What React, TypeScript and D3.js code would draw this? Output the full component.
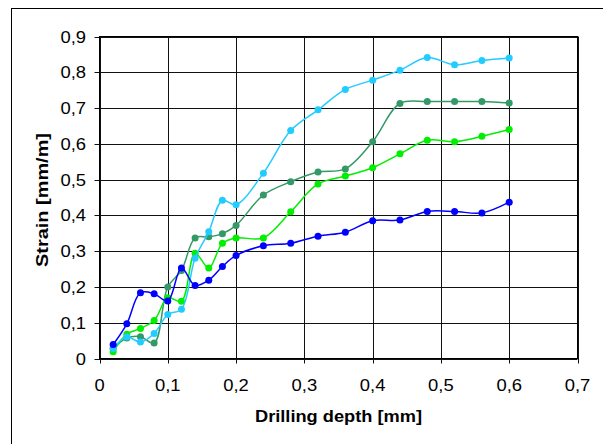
import React from "react";
import * as d3 from "d3";

const depths = [0.02, 0.04, 0.06, 0.08, 0.1, 0.12, 0.14, 0.16, 0.18, 0.2, 0.24, 0.28, 0.32, 0.36, 0.4, 0.44, 0.48, 0.52, 0.56, 0.6];
const blueSeries = [0.039, 0.097, 0.184, 0.181, 0.161, 0.253, 0.204, 0.219, 0.257, 0.288, 0.315, 0.322, 0.342, 0.353, 0.385, 0.387, 0.411, 0.411, 0.407, 0.437];
const greenSeries = [0.019, 0.068, 0.084, 0.106, 0.17, 0.16, 0.294, 0.253, 0.322, 0.337, 0.337, 0.41, 0.488, 0.51, 0.533, 0.572, 0.61, 0.606, 0.621, 0.64];
const tealSeries = [0.028, 0.057, 0.061, 0.043, 0.2, 0.246, 0.337, 0.34, 0.349, 0.372, 0.457, 0.494, 0.521, 0.53, 0.606, 0.713, 0.718, 0.718, 0.718, 0.714];
const cyanSeries = [0.028, 0.06, 0.046, 0.07, 0.123, 0.138, 0.28, 0.354, 0.442, 0.43, 0.518, 0.637, 0.695, 0.752, 0.778, 0.806, 0.841, 0.821, 0.833, 0.84];
const xTicks = [0, 0.1, 0.2, 0.3, 0.4, 0.5, 0.6, 0.7];
const yTicks = [0, 0.1, 0.2, 0.3, 0.4, 0.5, 0.6, 0.7, 0.8, 0.9];
const seriesList = [
  { values: tealSeries, color: "#339966" },
  { values: greenSeries, color: "#00EE00" },
  { values: cyanSeries, color: "#22CCFF" },
  { values: blueSeries, color: "#0000FF" },
];

const fmt = (v: number) => (v === 0 ? "0" : d3.format(".1f")(v).replace(".", ","));

export default function App() {
  const W = 603, H = 444;
  const left = 99.5, right = 577.5, top = 36.5, bottom = 358.5;
  const x = d3.scaleLinear().domain([0, 0.7]).range([left, right]);
  const y = d3.scaleLinear().domain([0, 0.9]).range([bottom, top]);
  const font = "'Liberation Sans', Arial, sans-serif";
  const labelLen = (s: string) => (s.length === 1 ? 10.2 : 25.6);
  return (
    <svg width={W} height={H} style={{ position: "absolute", left: 0, top: 0 }}>
      <rect x={0} y={0} width={W} height={H} fill="#fff" />
      <rect x={11.5} y={8.5} width={W} height={H} fill="none" stroke="#000" strokeWidth={1} />
      {yTicks.map((t) => (
        <g key={"y" + t}>
          <line x1={left - 5} x2={right} y1={Math.round(y(t)) + 0.5} y2={Math.round(y(t)) + 0.5} stroke="#111" strokeWidth={1} />
          <text x={86} y={y(t) + 6} textAnchor="end" fontFamily={font} fontSize={16} fill="#000"
            textLength={labelLen(fmt(t))} lengthAdjust="spacingAndGlyphs">
            {fmt(t)}
          </text>
        </g>
      ))}
      {xTicks.map((t) => (
        <g key={"x" + t}>
          <line x1={Math.round(x(t)) + 0.5} x2={Math.round(x(t)) + 0.5} y1={top} y2={bottom + 5} stroke="#111" strokeWidth={1} />
          <text x={x(t)} y={391} textAnchor="middle" fontFamily={font} fontSize={16} fill="#000"
            textLength={labelLen(fmt(t))} lengthAdjust="spacingAndGlyphs">
            {fmt(t)}
          </text>
        </g>
      ))}
      <rect x={left} y={top} width={right - left} height={bottom - top} fill="none" stroke="#000" strokeWidth={1} />
      {seriesList.map((s, i) => {
        const pts: [number, number][] = depths.map((d, j) => [x(d), y(s.values[j])]);
        const path = d3.line().curve(d3.curveCatmullRom.alpha(0.5))(pts) || "";
        return (
          <g key={i}>
            <path d={path} fill="none" stroke={s.color} strokeWidth={1.5} />
            {pts.map((p, j) => (
              <circle key={j} cx={p[0]} cy={p[1]} r={3.5} fill={s.color} />
            ))}
          </g>
        );
      })}
      <text x={338.5} y={422} textAnchor="middle" fontFamily={font} fontSize={16} fontWeight="bold" fill="#000"
        textLength={167} lengthAdjust="spacingAndGlyphs">
        Drilling depth [mm]
      </text>
      <text transform={`translate(47.5,200) rotate(-90)`} textAnchor="middle" fontFamily={font} fontSize={17} fontWeight="bold" fill="#000"
        textLength={134} lengthAdjust="spacingAndGlyphs">
        Strain [mm/m]
      </text>
    </svg>
  );
}
